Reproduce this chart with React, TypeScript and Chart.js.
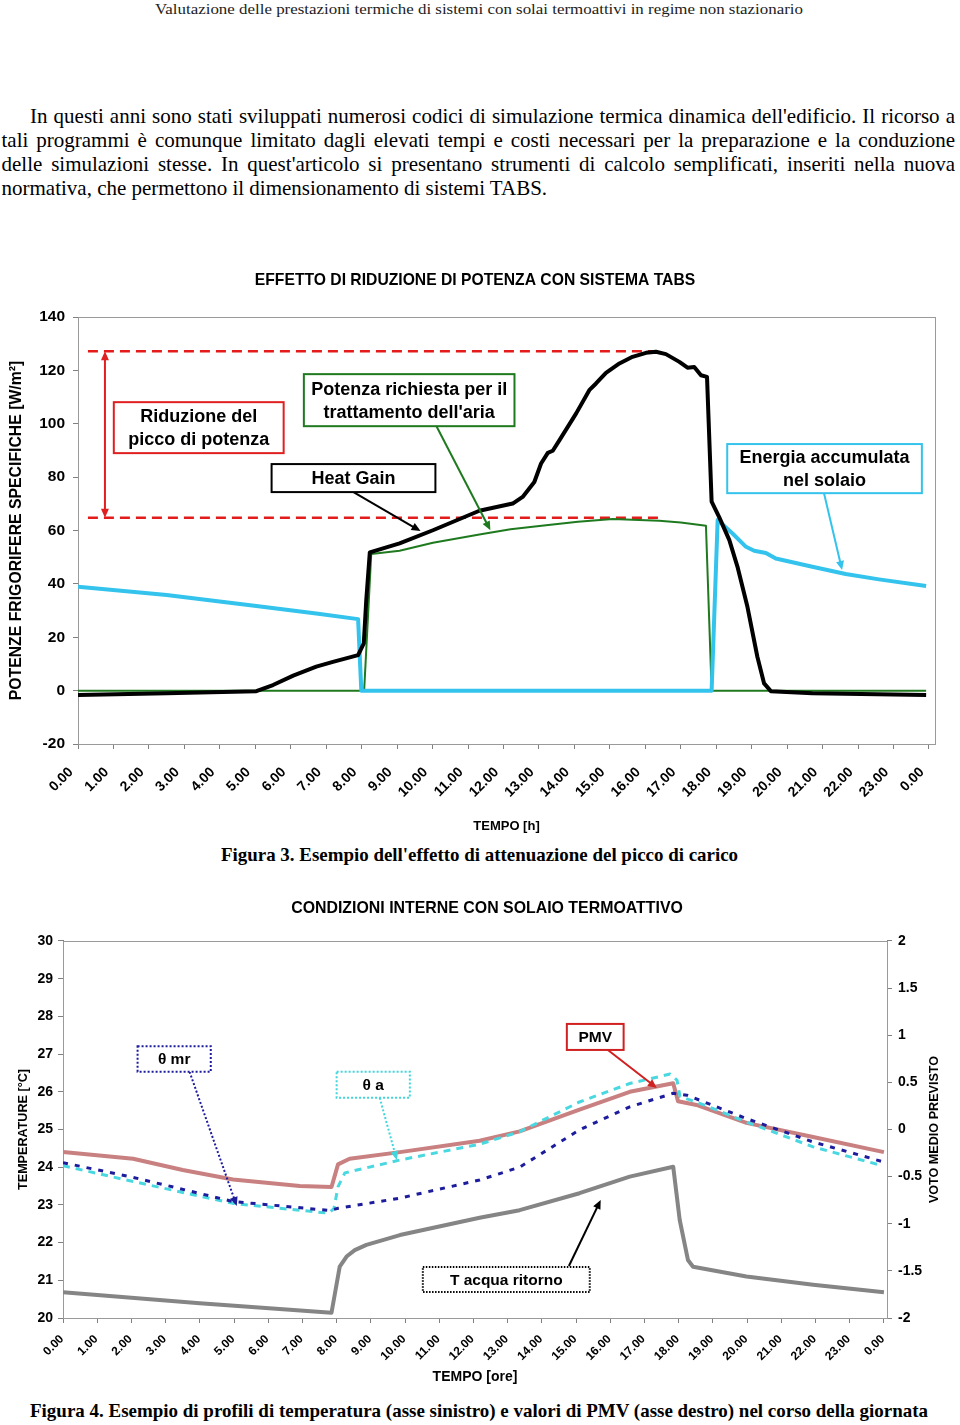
import React, { useEffect, useLayoutEffect, useRef } from 'react';
import { Chart, registerables } from 'chart.js';

Chart.register(...registerables);

const SANS = '"Liberation Sans", Arial, Helvetica, sans-serif';
const SERIF = '"Liberation Serif", "Times New Roman", Times, serif';

// ---------------- page text ----------------
const headerText = 'Valutazione delle prestazioni termiche di sistemi con solai termoattivi in regime non stazionario';
const paragraphLines = [
  "In questi anni sono stati sviluppati numerosi codici di simulazione termica dinamica dell'edificio. Il ricorso a",
  'tali programmi è comunque limitato dagli elevati tempi e costi necessari per la preparazione e la conduzione',
  "delle simulazioni stesse. In quest'articolo si presentano strumenti di calcolo semplificati, inseriti nella nuova",
  'normativa, che permettono il dimensionamento di sistemi TABS.',
];
const caption3 = "Figura 3. Esempio dell'effetto di attenuazione del picco di carico";
const caption4 = 'Figura 4. Esempio di profili di temperatura (asse sinistro) e valori di PMV (asse destro) nel corso della giornata';

// ---------------- shared axis ----------------
const hourTicks = [0, 1, 2, 3, 4, 5, 6, 7, 8, 9, 10, 11, 12, 13, 14, 15, 16, 17, 18, 19, 20, 21, 22, 23, 24];

// ---------------- Figura 3 ----------------
const fig3Title = 'EFFETTO DI RIDUZIONE DI POTENZA CON SISTEMA TABS';
const fig3YTitle = 'POTENZE FRIGORIFERE SPECIFICHE [W/m²]';
const fig3XTitle = 'TEMPO [h]';
const fig3YMin = -20;
const fig3YMax = 140;
const fig3YStep = 20;

const heatGainHours = [0, 2.5, 5.03, 5.5, 6.07, 6.72, 7.19, 7.9, 8.06, 8.13, 8.23, 9.07, 10.01, 11.32, 12.26, 12.54, 12.87, 13.06, 13.25, 13.39, 13.58, 14.05, 14.42, 14.61, 14.89, 15.27, 15.64, 16.02, 16.3, 16.58, 16.96, 17.19, 17.38, 17.57, 17.74, 17.87, 18.08, 18.37, 18.6, 18.88, 19.16, 19.35, 19.54, 20.71, 23.92];
const heatGainValues = [-1.6, -1.0, -0.2, 2.1, 5.6, 9.0, 10.8, 13.3, 17.7, 33.9, 51.8, 55.2, 60.1, 67.4, 70.1, 72.6, 78.2, 85.1, 89.1, 89.9, 93.9, 103.9, 112.6, 115.1, 119.1, 122.6, 125.1, 126.6, 127.0, 126.1, 123.2, 121.0, 121.3, 118.2, 117.6, 70.8, 65.1, 56.4, 46.4, 31.4, 12.7, 2.7, -0.2, -1.0, -1.6];

const airPowerHours = [0, 8.07, 8.27, 9.07, 10.01, 11.32, 12.2, 13.2, 14.1, 15.08, 16.39, 17.0, 17.71, 17.87, 23.92];
const airPowerValues = [0, 0, 51.2, 52.4, 55.4, 58.5, 60.5, 62.0, 63.3, 64.3, 63.7, 63.0, 61.8, 0, 0];

const slabHours = [0, 2.5, 5.03, 6.72, 7.9, 7.99, 17.87, 18.04, 18.46, 18.84, 19.07, 19.4, 19.68, 20.71, 21.65, 22.59, 23.92];
const slabValues = [38.9, 35.8, 31.7, 28.9, 26.8, 0, 0, 63.9, 58.9, 53.9, 52.4, 51.6, 49.5, 46.4, 43.7, 41.7, 39.2];

const peakLevel = 127.2;
const reducedLevel = 64.8;
const levelHours = [0.28, 16.4];
const reductionArrowHour = 0.76;

// ---------------- Figura 4 ----------------
const fig4Title = 'CONDIZIONI INTERNE CON SOLAIO TERMOATTIVO';
const fig4YTitle = 'TEMPERATURE [°C]';
const fig4Y1Title = 'VOTO MEDIO PREVISTO';
const fig4XTitle = 'TEMPO [ore]';

const radiantHours = [0, 2.05, 4.97, 7.8, 8.04, 9.85, 12.18, 13.35, 15.1, 16.57, 17.84, 18.24, 19.98, 21.93, 23.95];
const radiantValues = [24.12, 23.73, 23.09, 22.85, 22.91, 23.18, 23.66, 24.0, 24.99, 25.6, 25.96, 25.91, 25.29, 24.67, 24.15];

const airTempHours = [0, 2.05, 4.97, 7.76, 7.92, 8.04, 8.24, 9.85, 12.18, 13.35, 15.1, 16.57, 17.75, 17.95, 18.04, 18.52, 19.98, 21.93, 23.95];
const airTempValues = [24.04, 23.62, 23.04, 22.78, 22.9, 23.48, 23.85, 24.19, 24.61, 24.94, 25.73, 26.22, 26.47, 26.31, 25.87, 25.73, 25.2, 24.54, 24.04];

const pmvHours = [0, 2.05, 3.5, 4.97, 6.92, 7.85, 8.04, 8.38, 9.85, 12.18, 13.35, 15.1, 16.57, 17.84, 17.98, 18.52, 19.98, 21.93, 24.0];
const pmvValues = [-0.24, -0.31, -0.43, -0.53, -0.6, -0.61, -0.37, -0.31, -0.24, -0.12, -0.02, 0.21, 0.4, 0.49, 0.3, 0.26, 0.07, -0.08, -0.24];

const waterHours = [0, 4.0, 7.85, 7.95, 8.09, 8.29, 8.53, 8.87, 9.85, 12.18, 13.35, 15.1, 16.57, 17.84, 18.03, 18.27, 18.42, 19.98, 21.93, 24.0];
const waterValues = [20.68, 20.39, 20.14, 20.65, 21.36, 21.63, 21.8, 21.94, 22.2, 22.66, 22.86, 23.31, 23.75, 24.01, 22.6, 21.54, 21.36, 21.1, 20.88, 20.68];

// ---------------- annotations (data coordinates) ----------------
type Note = {
  box: [number, number, number, number]; // hour left, hour right, value top, value bottom
  lines: string[];
  color: string;
  dash: number[];
  arrow?: [number, number, number, number];
  arrowDash?: number[];
};

const fig3Notes: Note[] = [
  { box: [1.01, 5.8, 108.1, 89.0], lines: ['Riduzione del', 'picco di potenza'], color: '#e02020', dash: [] },
  { box: [6.37, 12.31, 118.6, 99.1], lines: ['Potenza richiesta per il', "trattamento dell'aria"], color: '#1f7a1f', dash: [], arrow: [10.11, 99.1, 11.63, 60.1] },
  { box: [5.46, 10.08, 84.9, 74.4], lines: ['Heat Gain'], color: '#000000', dash: [], arrow: [7.77, 74.4, 9.66, 59.8] },
  { box: [18.31, 23.8, 92.4, 74.0], lines: ['Energia accumulata', 'nel solaio'], color: '#33c3ec', dash: [], arrow: [21.04, 74.0, 21.55, 45.2] },
];

const fig4Notes: Note[] = [
  { box: [2.18, 4.32, 27.21, 26.53], lines: ['θ mr'], color: '#1c1c9c', dash: [2, 2], arrow: [3.7, 26.53, 5.08, 22.97], arrowDash: [2, 2] },
  { box: [8.0, 10.14, 26.53, 25.84], lines: ['θ a'], color: '#3fd6dc', dash: [2, 2], arrow: [9.26, 25.84, 9.76, 24.19], arrowDash: [2, 2] },
  { box: [14.73, 16.39, 27.8, 27.11], lines: ['PMV'], color: '#d02020', dash: [], arrow: [15.93, 27.11, 17.36, 26.1] },
  { box: [10.52, 15.4, 21.35, 20.69], lines: ['T acqua ritorno'], color: '#000000', dash: [1.5, 1.5], arrow: [14.79, 21.38, 15.72, 23.13] },
];

const pts = (hs: number[], vs: number[]) => hs.map((h, i) => ({ x: h, y: vs[i] }));

function drawArrowHead(ctx: CanvasRenderingContext2D, fx: number, fy: number, tx: number, ty: number, color: string, len = 9, half = 4) {
  const a = Math.atan2(ty - fy, tx - fx);
  ctx.save();
  ctx.setLineDash([]);
  ctx.fillStyle = color;
  ctx.beginPath();
  ctx.moveTo(tx, ty);
  ctx.lineTo(tx - len * Math.cos(a) + half * Math.sin(a), ty - len * Math.sin(a) - half * Math.cos(a));
  ctx.lineTo(tx - len * Math.cos(a) - half * Math.sin(a), ty - len * Math.sin(a) + half * Math.cos(a));
  ctx.closePath();
  ctx.fill();
  ctx.restore();
}

function drawArrow(ctx: CanvasRenderingContext2D, x1: number, y1: number, x2: number, y2: number, color: string, width: number, dash: number[]) {
  const a = Math.atan2(y2 - y1, x2 - x1);
  ctx.save();
  ctx.strokeStyle = color;
  ctx.lineWidth = width;
  ctx.setLineDash(dash);
  ctx.beginPath();
  ctx.moveTo(x1, y1);
  ctx.lineTo(x2 - 6 * Math.cos(a), y2 - 6 * Math.sin(a));
  ctx.stroke();
  ctx.restore();
  drawArrowHead(ctx, x1, y1, x2, y2, color);
}

function notesPlugin(notes: Note[], fontSize: number, lineGap: number) {
  return {
    id: 'notes',
    afterDatasetsDraw(chart: any) {
      const { ctx } = chart;
      const xs = chart.scales.x;
      const ys = chart.scales.y;
      ctx.save();
      for (const n of notes) {
        if (n.arrow) {
          drawArrow(ctx, xs.getPixelForValue(n.arrow[0]), ys.getPixelForValue(n.arrow[1]), xs.getPixelForValue(n.arrow[2]), ys.getPixelForValue(n.arrow[3]), n.color, 2, n.arrowDash || []);
        }
      }
      for (const n of notes) {
        const x0 = xs.getPixelForValue(n.box[0]);
        const x1 = xs.getPixelForValue(n.box[1]);
        const y0 = ys.getPixelForValue(n.box[2]);
        const y1 = ys.getPixelForValue(n.box[3]);
        ctx.fillStyle = '#ffffff';
        ctx.fillRect(x0, y0, x1 - x0, y1 - y0);
        ctx.strokeStyle = n.color;
        ctx.lineWidth = 2;
        ctx.setLineDash(n.dash);
        ctx.strokeRect(x0, y0, x1 - x0, y1 - y0);
        ctx.setLineDash([]);
        ctx.fillStyle = '#000000';
        ctx.font = `bold ${fontSize}px ${SANS}`;
        ctx.textAlign = 'center';
        ctx.textBaseline = 'middle';
        const cx = (x0 + x1) / 2;
        const cy = (y0 + y1) / 2;
        n.lines.forEach((t, i) => {
          ctx.fillText(t, cx, cy + (i - (n.lines.length - 1) / 2) * lineGap + 1);
        });
      }
      ctx.restore();
    },
  };
}

const framePlugin = {
  id: 'frame',
  beforeDatasetsDraw(chart: any) {
    const { ctx, chartArea: a } = chart;
    ctx.save();
    ctx.strokeStyle = '#9a9a9a';
    ctx.lineWidth = 1;
    ctx.strokeRect(Math.round(a.left) + 0.5, Math.round(a.top) + 0.5, Math.round(a.right - a.left), Math.round(a.bottom - a.top));
    ctx.restore();
  },
};

const reductionArrowPlugin = {
  id: 'reductionArrow',
  afterDatasetsDraw(chart: any) {
    const { ctx } = chart;
    const x = chart.scales.x.getPixelForValue(reductionArrowHour);
    const yTop = chart.scales.y.getPixelForValue(peakLevel);
    const yBot = chart.scales.y.getPixelForValue(reducedLevel);
    ctx.save();
    ctx.strokeStyle = '#e02020';
    ctx.lineWidth = 2;
    ctx.beginPath();
    ctx.moveTo(x, yTop + 6);
    ctx.lineTo(x, yBot - 6);
    ctx.stroke();
    ctx.restore();
    drawArrowHead(ctx, x, yBot, x, yTop, '#e02020', 9, 4);
    drawArrowHead(ctx, x, yTop, x, yBot, '#e02020', 9, 4);
  },
};

const rightTitlePlugin = {
  id: 'rightTitle',
  afterDraw(chart: any) {
    const { ctx, chartArea: a } = chart;
    ctx.save();
    ctx.translate(921, (a.top + a.bottom) / 2);
    ctx.rotate(-Math.PI / 2);
    ctx.font = `bold 12.6px ${SANS}`;
    ctx.fillStyle = '#000';
    ctx.textAlign = 'center';
    ctx.textBaseline = 'middle';
    ctx.fillText(fig4Y1Title, 0, 0);
    ctx.restore();
  },
};

const tickGrid = { drawOnChartArea: false, drawTicks: true, tickLength: 5, color: '#808080' };
const axisBorder = { display: true, color: '#808080', width: 1 };
const hourLabel = (v: any) => (Number(v) % 24).toFixed(2);
const setHourTicks = (s: any) => {
  s.ticks = hourTicks.map((v) => ({ value: v }));
};

function buildFig3(): any {
  return {
    type: 'line',
    data: {
      datasets: [
        { label: 'Heat Gain', data: pts(heatGainHours, heatGainValues), borderColor: '#000000', borderWidth: 4 },
        { label: 'Energia accumulata nel solaio', data: pts(slabHours, slabValues), borderColor: '#33c3ec', borderWidth: 4 },
        { label: "Potenza richiesta per il trattamento dell'aria", data: pts(airPowerHours, airPowerValues), borderColor: '#1f7a1f', borderWidth: 2 },
        { label: 'Picco', data: levelHours.map((h) => ({ x: h, y: peakLevel })), borderColor: '#e41b1b', borderWidth: 2.5, borderDash: [10, 6] },
        { label: 'Picco ridotto', data: levelHours.map((h) => ({ x: h, y: reducedLevel })), borderColor: '#e41b1b', borderWidth: 2.5, borderDash: [10, 6] },
      ],
    },
    options: {
      animation: false,
      responsive: false,
      maintainAspectRatio: false,
      layout: { padding: 0 },
      elements: { point: { radius: 0 }, line: { tension: 0, borderJoinStyle: 'round', borderCapStyle: 'butt' } },
      plugins: {
        legend: { display: false },
        tooltip: { enabled: false },
        title: {
          display: true,
          text: fig3Title,
          color: '#000',
          font: { family: SANS, size: 15.7, weight: 'bold', lineHeight: 1.2 },
          padding: { top: 13.6, bottom: 26.6 },
        },
      },
      scales: {
        x: {
          type: 'linear',
          min: 0,
          max: 24.17,
          afterBuildTicks: setHourTicks,
          afterFit: (s: any) => {
            s.height = 96;
          },
          grid: tickGrid,
          border: axisBorder,
          ticks: { autoSkip: false, minRotation: 45, maxRotation: 45, padding: 15, labelOffset: -7, color: '#000', font: { family: SANS, size: 14, weight: 'bold' }, callback: hourLabel },
          title: { display: true, text: fig3XTitle, color: '#000', font: { family: SANS, size: 13, weight: 'bold', lineHeight: 1.2 }, padding: { top: 0, bottom: 5.5 } },
        },
        y: {
          type: 'linear',
          min: fig3YMin,
          max: fig3YMax,
          afterFit: (s: any) => {
            s.width = 88;
          },
          grid: tickGrid,
          border: axisBorder,
          ticks: { stepSize: fig3YStep, padding: 8, color: '#000', font: { family: SANS, size: 15.5, weight: 'bold' } },
          title: { display: true, text: fig3YTitle, color: '#000', font: { family: SANS, size: 15.8, weight: 'bold', lineHeight: 1.2 }, padding: { top: 17.5, bottom: 0 } },
        },
        pad: {
          type: 'linear',
          position: 'right',
          display: true,
          min: 0,
          max: 1,
          afterFit: (s: any) => {
            s.width = 25;
          },
          grid: { display: false, drawTicks: false },
          border: { display: false },
          ticks: { display: false },
        },
      },
    },
    plugins: [framePlugin, notesPlugin(fig3Notes, 18, 23), reductionArrowPlugin],
  };
}

function buildFig4(): any {
  return {
    type: 'line',
    data: {
      datasets: [
        { label: 'θ mr', data: pts(radiantHours, radiantValues), borderColor: '#1c1c9c', borderWidth: 3, borderDash: [5, 7], yAxisID: 'y' },
        { label: 'θ a', data: pts(airTempHours, airTempValues), borderColor: '#4ad8e0', borderWidth: 3, borderDash: [7, 6], yAxisID: 'y' },
        { label: 'PMV', data: pts(pmvHours, pmvValues), borderColor: '#c98081', borderWidth: 4, yAxisID: 'y1' },
        { label: 'T acqua ritorno', data: pts(waterHours, waterValues), borderColor: '#858585', borderWidth: 4, yAxisID: 'y' },
      ],
    },
    options: {
      animation: false,
      responsive: false,
      maintainAspectRatio: false,
      layout: { padding: 0 },
      elements: { point: { radius: 0 }, line: { tension: 0, borderJoinStyle: 'round' } },
      plugins: {
        legend: { display: false },
        tooltip: { enabled: false },
        title: {
          display: true,
          text: fig4Title,
          color: '#000',
          font: { family: SANS, size: 15.9, weight: 'bold', lineHeight: 1.2 },
          padding: { top: 19.5, bottom: 22.4 },
        },
      },
      scales: {
        x: {
          type: 'linear',
          min: 0,
          max: 24.09,
          afterBuildTicks: setHourTicks,
          afterFit: (s: any) => {
            s.height = 77;
          },
          grid: tickGrid,
          border: axisBorder,
          ticks: { autoSkip: false, minRotation: 45, maxRotation: 45, padding: 9, labelOffset: -1, color: '#000', font: { family: SANS, size: 12, weight: 'bold' }, callback: hourLabel },
          title: { display: true, text: fig4XTitle, color: '#000', font: { family: SANS, size: 14, weight: 'bold', lineHeight: 1.2 }, padding: { top: 0, bottom: 9 } },
        },
        y: {
          type: 'linear',
          position: 'left',
          min: 20,
          max: 30,
          afterFit: (s: any) => {
            s.width = 49;
          },
          grid: tickGrid,
          border: axisBorder,
          ticks: { stepSize: 1, padding: 5, color: '#000', font: { family: SANS, size: 14, weight: 'bold' } },
          title: { display: true, text: fig4YTitle, color: '#000', font: { family: SANS, size: 12.6, weight: 'bold', lineHeight: 1.2 }, padding: { top: 1.5, bottom: 0 } },
        },
        y1: {
          type: 'linear',
          position: 'right',
          min: -2,
          max: 2,
          afterFit: (s: any) => {
            s.width = 73;
          },
          grid: tickGrid,
          border: axisBorder,
          ticks: { stepSize: 0.5, padding: 6, color: '#000', font: { family: SANS, size: 14, weight: 'bold' }, callback: (v: any) => String(v) },
        },
      },
    },
    plugins: [framePlugin, notesPlugin(fig4Notes, 15.5, 20), rightTitlePlugin],
  };
}

function ChartCanvas({ left, top, width, height, build }: { left: number; top: number; width: number; height: number; build: () => any }) {
  const ref = useRef<HTMLCanvasElement>(null);
  useEffect(() => {
    if (!ref.current) return;
    const chart = new Chart(ref.current, build());
    return () => chart.destroy();
  }, [build]);
  return <canvas ref={ref} width={width} height={height} style={{ position: 'absolute', left, top, width, height, display: 'block' }} />;
}

function FitLine({ text, left, top, width, lineHeight, style, mode }: { text: string; left: number; top: number; width: number | null; lineHeight: number; style: React.CSSProperties; mode: 'justify' | 'scale' | 'none' }) {
  const ref = useRef<HTMLSpanElement>(null);
  useLayoutEffect(() => {
    const el = ref.current;
    if (!el || width == null || mode === 'none') return;
    el.style.wordSpacing = '0px';
    el.style.transform = 'none';
    const w = el.getBoundingClientRect().width;
    const spaces = (text.match(/ /g) || []).length;
    if (mode === 'justify' && w <= width && spaces > 0) {
      el.style.wordSpacing = `${(width - w) / spaces}px`;
    } else if (w > 0) {
      el.style.transform = `scaleX(${width / w})`;
    }
  }, [text, width, mode]);
  return (
    <div style={{ position: 'absolute', left, top, height: lineHeight, lineHeight: `${lineHeight}px`, whiteSpace: 'nowrap' }}>
      <span ref={ref} style={{ ...style, display: 'inline-block', whiteSpace: 'nowrap', transformOrigin: 'left center' }}>
        {text}
      </span>
    </div>
  );
}

export default function App() {
  const paraStyle: React.CSSProperties = { fontFamily: SERIF, fontSize: 21, color: '#000' };
  const capStyle: React.CSSProperties = { fontFamily: SERIF, fontSize: 19, fontWeight: 'bold', color: '#000' };
  return (
    <div style={{ position: 'absolute', left: 0, top: 0, width: 960, height: 1425, overflow: 'hidden', background: '#fff' }}>
      <FitLine text={headerText} left={155} top={0} width={648} lineHeight={18} mode="scale" style={{ fontFamily: SERIF, fontSize: 15, color: '#222' }} />
      <FitLine text={paragraphLines[0]} left={30} top={104} width={925} lineHeight={24} mode="justify" style={paraStyle} />
      <FitLine text={paragraphLines[1]} left={1.5} top={128} width={953.5} lineHeight={24} mode="justify" style={paraStyle} />
      <FitLine text={paragraphLines[2]} left={1.5} top={152} width={953.5} lineHeight={24} mode="justify" style={paraStyle} />
      <FitLine text={paragraphLines[3]} left={1.5} top={176} width={null} lineHeight={24} mode="none" style={paraStyle} />

      <ChartCanvas left={-10} top={258} width={970} height={582} build={buildFig3} />
      <FitLine text={caption3} left={221} top={843} width={517} lineHeight={24} mode="scale" style={capStyle} />

      <ChartCanvas left={14} top={880} width={946} height={515} build={buildFig4} />
      <FitLine text={caption4} left={30} top={1399} width={898} lineHeight={24} mode="scale" style={capStyle} />
    </div>
  );
}
